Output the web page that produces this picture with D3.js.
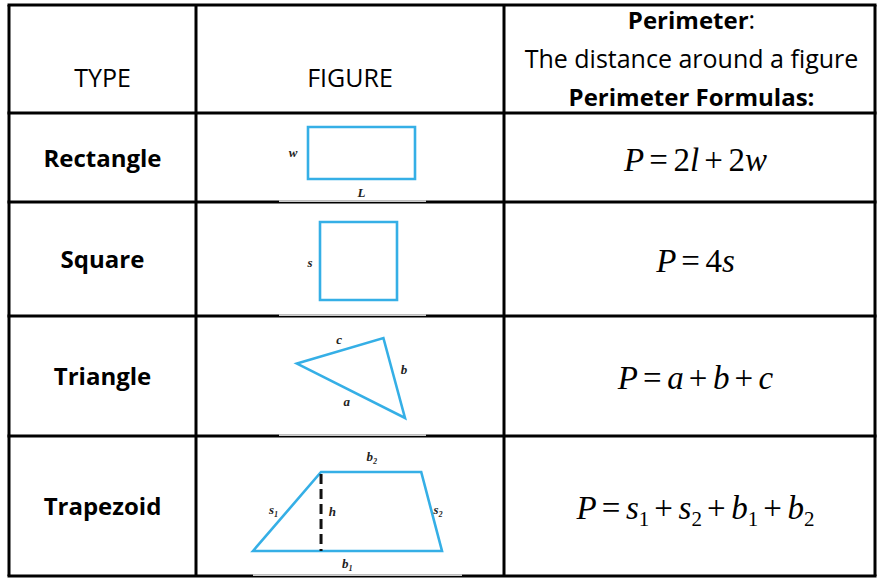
<!DOCTYPE html>
<html>
<head>
<meta charset="utf-8">
<script src="https://cdn.jsdelivr.net/npm/d3@7"></script>
<style>
  body { margin: 0; background: #fff; }
</style>
</head>
<body>
<div id="vis"></div>
<script>
// table content
let types = ['Rectangle', 'Square', 'Triangle', 'Trapezoid'];
let headers = ['TYPE', 'FIGURE'];
let headerLines = [
  [{ t: 'Perimeter', b: true }, { t: ':', b: false }],
  [{ t: 'The distance around a figure', b: false }],
  [{ t: 'Perimeter Formulas:', b: true }]
];
let formulas = ['P=2l+2w', 'P=4s', 'P=a+b+c', 'P=s_1+s_2+b_1+b_2'];

// figure outlines, in local units of each figure cell (0..100 across, 0..100 down)
let rectPts = [[0, 0], [100, 0], [100, 100], [0, 100]];
let squarePts = [[0, 0], [100, 0], [100, 100], [0, 100]];
let trianglePts = [[0, 32], [80, 0], [100, 100]];
let trapezoidPts = [[0, 100], [36, 0], [89, 0], [100, 100]];
let trapHeight = [[36, 0], [36, 100]];
// side labels [text, x, y] in the same units
let rectLabels = [['w', -14, 50], ['L', 50, 126]];
let squareLabels = [['s', -13, 52]];
let triangleLabels = [['c', 39, 3], ['b', 99, 40], ['a', 46, 80]];
let trapezoidLabels = [['b\u2082', 63, -19], ['s\u2081', 11, 48], ['h', 42, 51], ['s\u2082', 98, 48], ['b\u2081', 50, 117]];

let W = 877, H = 579;
let colX = [9, 196, 504, 875];
let rowY = [5, 113, 202, 316, 436, 576];
let blue = '#35afe6';

let svg = d3.select('#vis')
  .append('svg')
  .attr('width', W)
  .attr('height', H)
  .style('background-color', 'white');

let sans = "'Open Sans', sans-serif";
let serif = "'Times New Roman', 'Liberation Serif', serif";

// header text
let colMid = i => (colX[i] + colX[i + 1]) / 2;
let rowMid = i => (rowY[i] + rowY[i + 1]) / 2;

headers.forEach((h, i) => {
  svg.append('text')
    .attr('x', colMid(i)).attr('y', 87)
    .attr('text-anchor', 'middle')
    .style('font-family', sans).style('font-size', '25px')
    .text(h);
});

headerLines.forEach((line, i) => {
  let t = svg.append('text')
    .attr('x', colMid(2) + 2).attr('y', 29 + i * 38.5)
    .attr('text-anchor', 'middle')
    .style('font-family', sans).style('font-size', '25px');
  line.forEach(part => {
    t.append('tspan').text(part.t)
      .style('font-weight', part.b ? 700 : 400)
      .style('font-size', part.b ? '24px' : '25px');
  });
});

// type names
types.forEach((name, i) => {
  svg.append('text')
    .attr('x', colMid(0)).attr('y', rowMid(i + 1) + 9)
    .attr('text-anchor', 'middle')
    .style('font-family', sans).style('font-size', '24px').style('font-weight', 700)
    .text(name);
});

// formulas
formulas.forEach((f, i) => {
  let t = svg.append('text')
    .attr('x', colMid(2) + 6).attr('y', rowMid(i + 1) + 13)
    .attr('text-anchor', 'middle')
    .style('font-family', serif).style('font-size', '33px');
  let sub = false, lowered = false;
  for (let c of f) {
    if (c === '_') { sub = true; continue; }
    let sp = t.append('tspan').text(c);
    if (sub) {
      sp.style('font-size', '21px').attr('dy', 7);
      lowered = true; sub = false;
      continue;
    }
    if (lowered) { sp.attr('dy', -7); lowered = false; }
    if (c === '=' || c === '+') {
      sp.attr('dx', 5);
      t.append('tspan').text('\u2009').style('font-size', '28px');
    } else if (/[a-zA-Z]/.test(c)) {
      sp.style('font-style', 'italic');
    }
  }
});

// figures
function figure(pts, box, labels, closed) {
  let x = d3.scaleLinear().domain([0, 100]).range([box[0], box[1]]);
  let y = d3.scaleLinear().domain([0, 100]).range([box[2], box[3]]);
  let line = d3.line().x(d => x(d[0])).y(d => y(d[1]));
  svg.append('path')
    .attr('d', line(pts) + (closed ? 'Z' : ''))
    .attr('fill', 'none')
    .attr('stroke', blue)
    .attr('stroke-width', 2.6)
    .attr('stroke-linejoin', 'miter');
  labels.forEach(l => {
    svg.append('text')
      .attr('x', x(l[1])).attr('y', y(l[2]) + 4)
      .attr('text-anchor', 'middle')
      .style('font-family', serif).style('font-style', 'italic')
      .style('font-weight', 700)
      .style('font-size', '13px').style('fill', '#222')
      .text(l[0]);
  });
  return { x, y };
}

figure(rectPts, [308, 415, 127, 179], rectLabels, true);
figure(squarePts, [320, 397, 222, 300], squareLabels, true);
figure(trianglePts, [297, 405, 338, 418], triangleLabels, true);
let tz = figure(trapezoidPts, [253, 442, 472, 551], trapezoidLabels, true);
svg.append('line')
  .attr('x1', tz.x(trapHeight[0][0])).attr('y1', tz.y(trapHeight[0][1]) + 2)
  .attr('x2', tz.x(trapHeight[1][0])).attr('y2', tz.y(trapHeight[1][1]))
  .attr('stroke', '#111').attr('stroke-width', 3)
  .attr('stroke-dasharray', '10,5');

// grid lines
let grid = svg.append('g').attr('stroke', '#000').attr('stroke-width', 3);
rowY.forEach((y, i) => {
  grid.append('line')
    .attr('x1', colX[0] - 1.5).attr('x2', colX[3] + 1.5)
    .attr('y1', y).attr('y2', y);
});
colX.forEach(x => {
  grid.append('line')
    .attr('x1', x).attr('x2', x)
    .attr('y1', rowY[0]).attr('y2', rowY[5]);
});

// the figure pictures clip the rules a little below each figure
let clipSegs = [[202, 279, 426], [316, 279, 426], [436, 279, 426], [576, 253, 462]];
clipSegs.forEach(s => {
  svg.append('rect')
    .attr('x', s[1]).attr('width', s[2] - s[1])
    .attr('y', s[0] - 1.5).attr('height', 1.3)
    .attr('fill', '#fff');
});
</script>
</body>
</html>
